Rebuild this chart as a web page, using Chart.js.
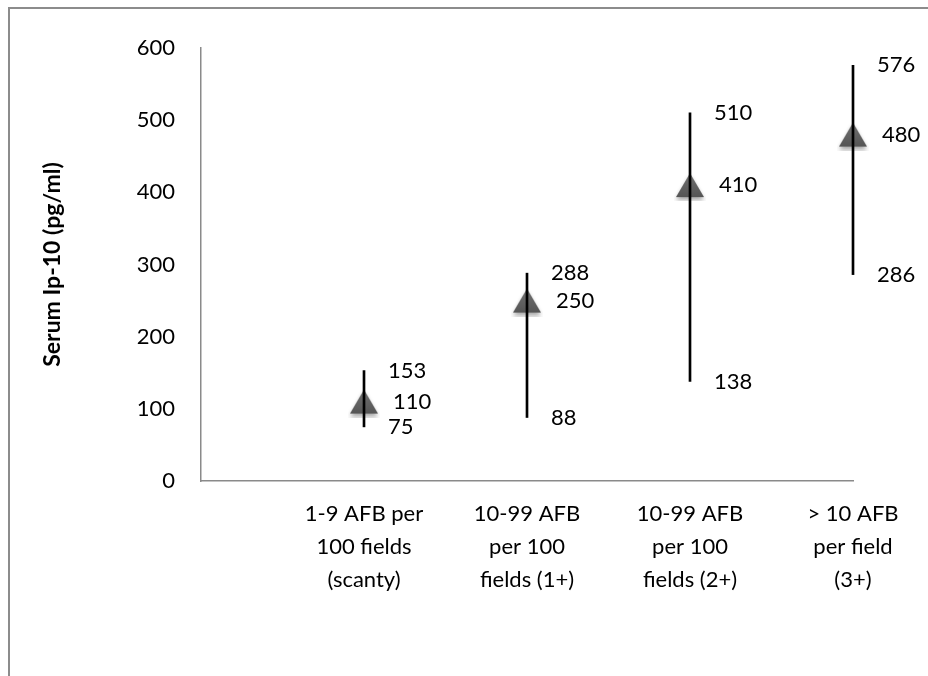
<!DOCTYPE html>
<html>
<head>
<meta charset="utf-8">
<title>Serum IP-10 by AFB grade</title>
<script src="https://cdn.jsdelivr.net/npm/chart.js@4/dist/chart.umd.min.js"></script>
<style>
  html, body { margin: 0; padding: 0; background: #fff; overflow: hidden; }
  #wrap { position: relative; width: 928px; height: 676px; }
  #frame {
    position: absolute; left: 8px; top: 7px; width: 940px; height: 700px;
    border-left: 2px solid #8c8c8c; border-top: 2px solid #8c8c8c;
  }
  #chart { position: absolute; left: 0; top: 0; }
</style>
</head>
<body>
<div id="wrap">
  <div id="frame"></div>
  <canvas id="chart" width="928" height="676"></canvas>
</div>
<script>
// categories (first slot is empty so the first group sits away from the axis)
const categories = [
  '',
  ['1-9 AFB per', '100 fields', '(scanty)'],
  ['10-99 AFB', 'per 100', 'fields (1+)'],
  ['10-99 AFB', 'per 100', 'fields (2+)'],
  ['> 10 AFB', 'per field', '(3+)']
];
const highValues = [153, 288, 510, 576];
const midValues = [110, 250, 410, 480];
const lowValues = [75, 88, 138, 286];
const yTicks = [0, 100, 200, 300, 400, 500, 600];

const FONT = 'Lato, "Open Sans", sans-serif';

// triangle marker with a soft drop shadow
function makeTriangle() {
  const c = document.createElement('canvas');
  c.width = 32; c.height = 32;
  const g = c.getContext('2d');
  g.shadowColor = 'rgba(0,0,0,0.35)';
  g.shadowBlur = 4;
  g.shadowOffsetY = 3;
  const grad = g.createLinearGradient(0, 4, 0, 28);
  grad.addColorStop(0, '#707070');
  grad.addColorStop(1, '#555555');
  g.fillStyle = grad;
  g.beginPath();
  g.moveTo(16, 4);
  g.lineTo(30, 28);
  g.lineTo(2, 28);
  g.closePath();
  g.fill();
  return c;
}

const valueLabels = {
  id: 'valueLabels',
  afterDatasetsDraw(chart) {
    const { ctx, scales } = chart;
    ctx.save();
    ctx.fillStyle = '#000';
    ctx.font = '22px ' + FONT;
    ctx.textAlign = 'left';
    ctx.textBaseline = 'middle';
    highValues.forEach((h, i) => {
      const x = scales.x.getPixelForValue(i + 1);
      ctx.fillText(String(h), x + 24, scales.y.getPixelForValue(h));
      ctx.fillText(String(midValues[i]), x + 29, scales.y.getPixelForValue(midValues[i]));
      ctx.fillText(String(lowValues[i]), x + 24, scales.y.getPixelForValue(lowValues[i]));
    });
    ctx.restore();
  }
};

new Chart(document.getElementById('chart'), {
  data: {
    labels: categories,
    datasets: [
      {
        type: 'bar',
        label: 'Range',
        data: [null, ...lowValues.map((l, i) => [l, highValues[i]])],
        backgroundColor: '#000',
        barThickness: 2,
        clip: false,
        order: 0
      },
      {
        type: 'line',
        label: 'Median',
        data: [null, ...midValues],
        showLine: false,
        pointStyle: makeTriangle(),
        pointRadius: 14,
        clip: false,
        order: 1
      }
    ]
  },
  options: {
    responsive: false,
    animation: false,
    devicePixelRatio: 1,
    layout: { padding: { left: 0, top: 48, right: 75, bottom: 0 } },
    plugins: { legend: { display: false }, tooltip: { enabled: false } },
    scales: {
      x: {
        type: 'category',
        offset: false,
        grid: { display: false, drawTicks: false },
        border: { display: true, color: '#8a8a8a', width: 1.5 },
        ticks: {
          color: '#000',
          padding: 16,
          maxRotation: 0,
          autoSkip: false,
          font: { family: FONT, size: 22, lineHeight: 1.5 }
        },
        afterFit(scale) { scale.height = 676 - 481; }
      },
      y: {
        min: 0,
        max: 600,
        afterBuildTicks(scale) { scale.ticks = yTicks.map(v => ({ value: v })); },
        grid: { display: false, drawTicks: false },
        border: { display: true, color: '#8a8a8a', width: 1.5 },
        ticks: { color: '#000', padding: 26, font: { family: FONT, size: 22 } },
        title: {
          display: true,
          text: 'Serum Ip-10 (pg/ml)',
          color: '#000',
          padding: { top: 39, bottom: 0 },
          font: { family: FONT, size: 23, weight: 'bold' }
        },
        afterFit(scale) { scale.width = 201; }
      }
    }
  },
  plugins: [valueLabels]
});
</script>
</body>
</html>
